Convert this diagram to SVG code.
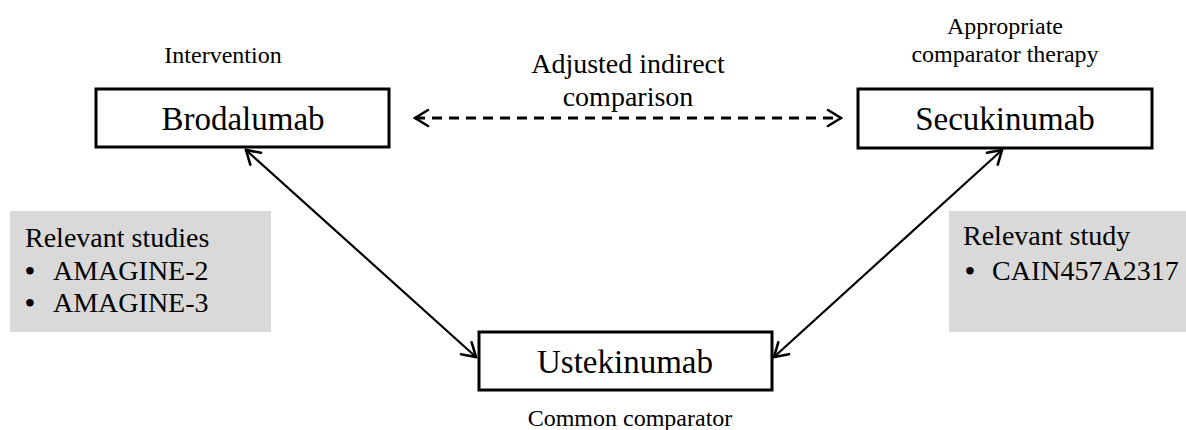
<svg xmlns="http://www.w3.org/2000/svg" width="1186" height="430" viewBox="0 0 1186 430">
  <style>
    text { font-family: "Liberation Serif", "Times New Roman", serif; fill: #000; }
    .box { fill: #fff; stroke: #000; stroke-width: 3; }
    .note { fill: #d9d9d9; stroke: none; }
    .lbl { font-size: 33px; text-anchor: middle; }
    .cap { font-size: 24px; text-anchor: middle; }
    .body { font-size: 28px; }
    .bul { font-size: 28px; font-weight: bold; text-anchor: middle; }
    .conn { fill: none; stroke: #000; stroke-width: 2.2; }
    .dash { fill: none; stroke: #000; stroke-width: 3; stroke-dasharray: 10 7; }
    .head { fill: none; stroke: #000; stroke-width: 2.6; stroke-linecap: round; stroke-linejoin: miter; }
  </style>
  <defs>
    <marker id="arr" markerUnits="userSpaceOnUse" viewBox="-16 -12 18 24" refX="0" refY="0" markerWidth="18" markerHeight="24" orient="auto-start-reverse">
      <path class="head" d="M-13,-8 L0,0 L-13,8"/>
    </marker>
  </defs>

  <rect width="1186" height="430" fill="#fff"/>

  <g id="notes">
    <g id="note-left">
      <rect class="note" x="10" y="211" width="261" height="121"/>
      <text class="body" x="25" y="247">Relevant studies</text>
      <text class="bul" x="30" y="280">•</text>
      <text class="body" x="53" y="280">AMAGINE-2</text>
      <text class="bul" x="30" y="312">•</text>
      <text class="body" x="53" y="312">AMAGINE-3</text>
    </g>
    <g id="note-right">
      <rect class="note" x="949" y="211" width="237" height="121"/>
      <text class="body" x="963" y="245">Relevant study</text>
      <text class="bul" x="970" y="280">•</text>
      <text class="body" x="992" y="280">CAIN457A2317</text>
    </g>
  </g>

  <g id="connectors">
    <line class="dash" x1="415" y1="118" x2="841" y2="118" marker-start="url(#arr)" marker-end="url(#arr)"/>
    <line class="conn" x1="246" y1="150" x2="476" y2="357" marker-start="url(#arr)" marker-end="url(#arr)"/>
    <line class="conn" x1="1002" y1="150" x2="774" y2="357" marker-start="url(#arr)" marker-end="url(#arr)"/>
    <text class="body" x="628" y="73" text-anchor="middle">Adjusted indirect</text>
    <text class="body" x="628" y="106" text-anchor="middle">comparison</text>
  </g>

  <g id="node-brodalumab">
    <text class="cap" x="223" y="63">Intervention</text>
    <rect class="box" x="96" y="89" width="293" height="58"/>
    <text class="lbl" x="243" y="130">Brodalumab</text>
  </g>

  <g id="node-secukinumab">
    <text class="cap" x="1005" y="34">Appropriate</text>
    <text class="cap" x="1005" y="62">comparator therapy</text>
    <rect class="box" x="858" y="89" width="294" height="59"/>
    <text class="lbl" x="1005" y="130">Secukinumab</text>
  </g>

  <g id="node-ustekinumab">
    <rect class="box" x="479" y="332" width="293" height="58"/>
    <text class="lbl" x="625" y="373">Ustekinumab</text>
    <text class="cap" x="630" y="426">Common comparator</text>
  </g>
</svg>
